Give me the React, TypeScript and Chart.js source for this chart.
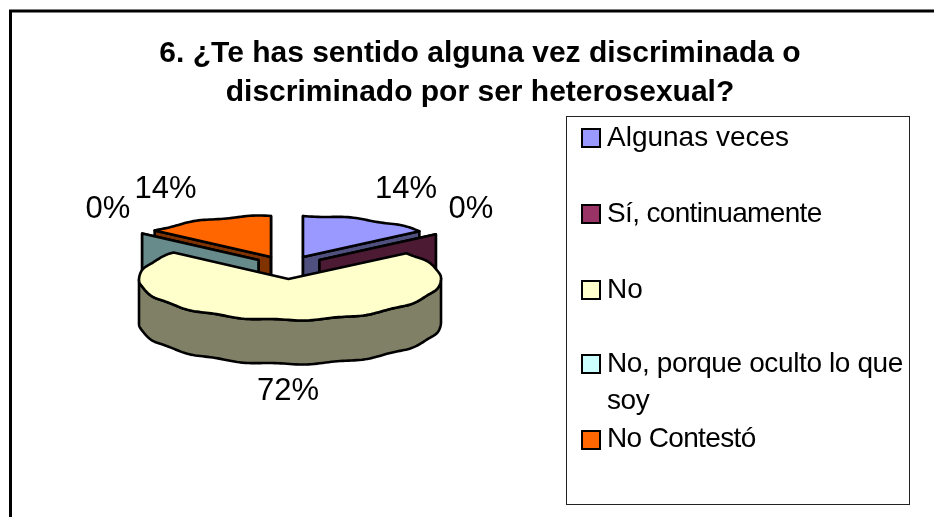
import React, { useEffect, useRef } from "react";
import { Chart, registerables } from "chart.js";

Chart.register(...registerables);

const titleLines = [
  "6. ¿Te has sentido alguna vez discriminada o",
  "discriminado por ser heterosexual?",
];
const categories = ["Algunas veces", "Sí, continuamente", "No", "No, porque oculto lo que soy", "No Contestó"];
const values = [14, 0, 72, 0, 14];
const topColors = ["#9999FF", "#993366", "#FFFFCC", "#CCFFFF", "#FF6600"];
const sideColors = ["#50507F", "#4D1A33", "#808066", "#678A8A", "#803300"];

const FONT = '"Liberation Sans", Arial, sans-serif';

const pie3d = {
  center: { x: 290, y: 279 },
  rx: 151,
  ry: 41,
  depth: 44,
  explode: [
    { x: 13, y: -22 },
    { x: 29.5, y: -19 },
    { x: 0, y: 0 },
    { x: -31.5, y: -19 },
    { x: -19, y: -22 },
  ],
  tipShift: [0, 0, -1.5, 0, 0],
  paintOrder: [0, 4, 1, 3, 2],
  labelAt: [
    { x: 406, y: 198 },
    { x: 471, y: 218 },
    { x: 288, y: 400 },
    { x: 108, y: 218 },
    { x: 165.5, y: 198 },
  ],
};

const legendBox = {
  left: 566.5,
  top: 116.5,
  right: 909.5,
  bottom: 504.5,
  swatchX: 582,
  swatchSize: 18,
  swatchTops: [129, 205, 281, 355, 431],
  textX: 607,
  maxText: 300,
  lineGap: 37,
  rowBaselines: [146, 222, 298, 372, 447],
  tracking: [0, -0.65, 0, -0.38, -0.64],
};

const pie3dPlugin = {
  id: "pie3d",
  beforeDraw(chart: any) {
    const { ctx, width, height } = chart;
    ctx.save();
    ctx.fillStyle = "#fff";
    ctx.fillRect(0, 0, width, height);
    ctx.strokeStyle = "#000";
    ctx.lineWidth = 3;
    ctx.beginPath();
    ctx.moveTo(10.5, height + 5);
    ctx.lineTo(10.5, 11);
    ctx.lineTo(width + 5, 11);
    ctx.stroke();
    ctx.restore();
  },
  beforeDatasetDraw() {
    return false;
  },
  afterDatasetsDraw(chart: any) {
    const { ctx } = chart;
    const meta = chart.getDatasetMeta(0);
    const { center, rx, ry, depth, explode, tipShift, paintOrder, labelAt } = pie3d;
    const total = values.reduce((a, b) => a + b, 0);

    const rim = (phi: number, o: { x: number; y: number }, dy = 0) => ({
      x: center.x + o.x + rx * Math.sin(phi),
      y: center.y + o.y - ry * Math.cos(phi) + dy + 0.7 * Math.sin(15 * phi),
    });
    const tip = (i: number, dy = 0) => ({
      x: center.x + explode[i].x + tipShift[i],
      y: center.y + explode[i].y + dy,
    });

    const shape = (pts: { x: number; y: number }[], fill: string) => {
      ctx.beginPath();
      pts.forEach((p, i) => (i ? ctx.lineTo(p.x, p.y) : ctx.moveTo(p.x, p.y)));
      ctx.closePath();
      ctx.fillStyle = fill;
      ctx.fill();
      ctx.stroke();
    };
    const samples = (a: number, b: number) => {
      const n = Math.max(1, Math.ceil((b - a) / 0.02));
      const out: number[] = [];
      for (let i = 0; i <= n; i++) out.push(a + ((b - a) * i) / n);
      return out;
    };

    ctx.save();
    ctx.strokeStyle = "#000";
    ctx.lineWidth = 2.6;
    ctx.lineJoin = "round";

    paintOrder.forEach((i) => {
      const arc = meta.data[i];
      const a = arc.startAngle + Math.PI / 2;
      const b = arc.endAngle + Math.PI / 2;
      const o = explode[i];
      const side = sideColors[i];
      if (b - a < Math.PI) {
        [a, b].forEach((phi) => {
          shape([tip(i), rim(phi, o), rim(phi, o, depth), tip(i, depth)], side);
        });
      }
      const fa = Math.max(a, Math.PI / 2);
      const fb = Math.min(b, (3 * Math.PI) / 2);
      if (fb > fa) {
        const s = samples(fa, fb);
        shape(
          [...s.map((p) => rim(p, o)), ...s.slice().reverse().map((p) => rim(p, o, depth))],
          side,
        );
      }
      if (b > a) {
        shape([tip(i), ...samples(a, b).map((p) => rim(p, o))], arc.options.backgroundColor);
      }
    });
    ctx.restore();

    ctx.save();
    ctx.fillStyle = "#000";
    ctx.font = `31px ${FONT}`;
    ctx.textAlign = "center";
    ctx.textBaseline = "alphabetic";
    values.forEach((v, i) => {
      ctx.fillText(`${Math.round((v / total) * 100)}%`, labelAt[i].x, labelAt[i].y);
    });
    ctx.restore();

    // legend
    const L = legendBox;
    ctx.save();
    ctx.strokeStyle = "#222";
    ctx.lineWidth = 1;
    ctx.strokeRect(L.left, L.top, L.right - L.left, L.bottom - L.top);
    ctx.font = `28px ${FONT}`;
    ctx.textBaseline = "alphabetic";
    ctx.textAlign = "left";
    categories.forEach((label, i) => {
      const base = L.rowBaselines[i];
      ctx.fillStyle = topColors[i];
      ctx.strokeStyle = "#000";
      ctx.lineWidth = 2;
      ctx.fillRect(L.swatchX, L.swatchTops[i], L.swatchSize, L.swatchSize);
      ctx.strokeRect(L.swatchX, L.swatchTops[i], L.swatchSize, L.swatchSize);
      ctx.fillStyle = "#000";
      (ctx as any).letterSpacing = `${L.tracking[i]}px`;
      const words = label.split(" ");
      const lines: string[] = [];
      let cur = "";
      words.forEach((w) => {
        const t = cur ? cur + " " + w : w;
        if (ctx.measureText(t).width > L.maxText && cur) {
          lines.push(cur);
          cur = w;
        } else cur = t;
      });
      lines.push(cur);
      lines.forEach((ln, k) => ctx.fillText(ln, L.textX, base + k * L.lineGap));
    });
    ctx.restore();
  },
};

export default function App() {
  const ref = useRef<HTMLCanvasElement>(null);
  useEffect(() => {
    document.body.style.margin = "0";
    const chart = new Chart(ref.current!, {
      type: "pie",
      data: {
        labels: categories,
        datasets: [{ data: values, backgroundColor: topColors }],
      },
      options: {
        responsive: false,
        animation: false,
        layout: { padding: { left: 26 } },
        plugins: {
          legend: { display: false },
          tooltip: { enabled: false },
          title: {
            display: true,
            fullSize: false,
            text: titleLines,
            color: "#000",
            font: { family: FONT, size: 30, weight: "bold", lineHeight: 1.28 },
            padding: { top: 35, bottom: 0 },
          },
        },
      },
      plugins: [pie3dPlugin],
    });
    return () => chart.destroy();
  }, []);
  return (
    <canvas ref={ref} width={934} height={517} style={{ display: "block", width: 934, height: 517 }} />
  );
}
